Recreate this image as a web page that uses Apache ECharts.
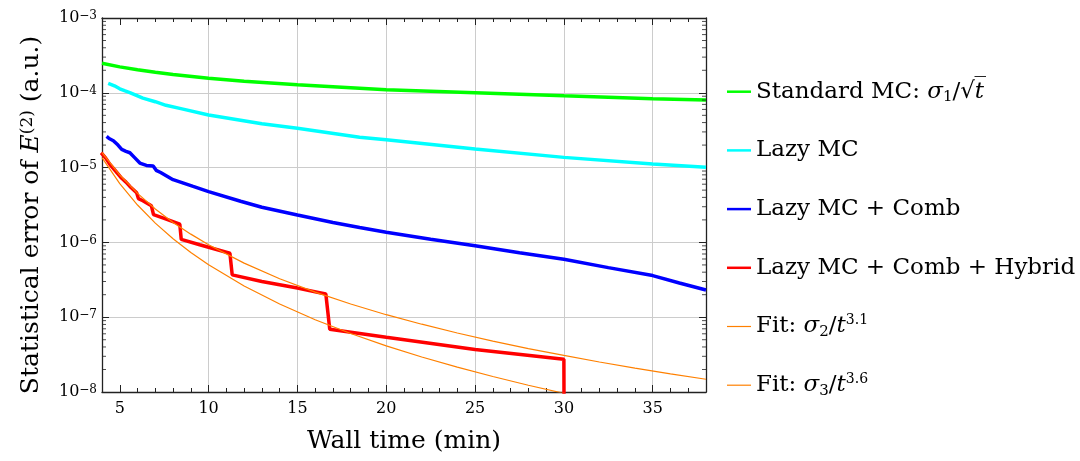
<!DOCTYPE html>
<html><head><meta charset="utf-8">
<script src="https://cdn.jsdelivr.net/npm/echarts@6/dist/echarts.min.js"></script>
<style>html,body{margin:0;padding:0;background:#fff}#c{width:1080px;height:461px}</style>
</head><body><div id="c"></div>
<script>
// ---- data (wall time in min, statistical error in a.u.) ----
const seriesNames = ['Standard MC', 'Lazy MC', 'Lazy MC + Comb', 'Lazy MC + Comb + Hybrid', 'Fit 3.1', 'Fit 3.6'];
const legendLabels = [
  'Standard MC: {i|σ}{sub|1}/√{i|t\u0305}',
  'Lazy MC',
  'Lazy MC + Comb',
  'Lazy MC + Comb + Hybrid',
  'Fit: {i|σ}{sub|2}/{i|t}{sup|3.1}',
  'Fit: {i|σ}{sub|3}/{i|t}{sup|3.6}'
];
const standardMC = [[4,2.48e-4],[5,2.22e-4],[6,2.03e-4],[7,1.88e-4],[8,1.76e-4],[10,1.57e-4],[12,1.43e-4],[15,1.28e-4],[18,1.17e-4],[20,1.10e-4],[25,1.0e-4],[30,9.1e-5],[35,8.3e-5],[38,8.0e-5]];
const lazyMC = [[4.35,1.34e-4],[4.7,1.24e-4],[5.0,1.13e-4],[5.3,1.06e-4],[5.6,1.0e-4],[6.3,8.5e-5],[7.0,7.6e-5],[7.6,6.8e-5],[8.5,6.1e-5],[10,5.05e-5],[11.8,4.3e-5],[13,3.85e-5],[15,3.35e-5],[18.5,2.55e-5],[20,2.36e-5],[25,1.77e-5],[30,1.37e-5],[35,1.12e-5],[38,1.01e-5]];
const lazyComb = [[4.26,2.62e-5],[4.4,2.45e-5],[4.64,2.29e-5],[4.9,2.0e-5],[5.11,1.75e-5],[5.35,1.65e-5],[5.57,1.58e-5],[5.85,1.35e-5],[6.13,1.15e-5],[6.5,1.07e-5],[6.88,1.05e-5],[7.05,9.2e-6],[7.3,8.6e-6],[8.0,6.9e-6],[9.13,5.6e-6],[10,4.78e-6],[11.8,3.55e-6],[13,2.95e-6],[15,2.33e-6],[17,1.85e-6],[18.5,1.58e-6],[20,1.37e-6],[22.5,1.10e-6],[25,9.0e-7],[27.5,7.25e-7],[30,5.95e-7],[32.5,4.6e-7],[35,3.6e-7],[36.5,2.87e-7],[38,2.31e-7]];
const lazyCombHybrid = [[3.95,1.58e-5],[4.2,1.35e-5],[4.45,1.1e-5],[4.8,8.8e-6],[5.11,7.2e-6],[5.35,6.4e-6],[5.57,5.6e-6],[5.95,4.6e-6],[6.05,3.85e-6],[6.3,3.6e-6],[6.78,3.08e-6],[6.9,2.35e-6],[7.5,2.1e-6],[8.38,1.75e-6],[8.46,1.1e-6],[9.5,9.3e-7],[11.2,7.15e-7],[11.33,3.68e-7],[13,3.0e-7],[15,2.45e-7],[16.6,2.04e-7],[16.82,6.9e-8],[20,5.4e-8],[25,3.7e-8],[30.0,2.74e-8],[30.01,5e-9]];
const fit31 = [[4,1.59e-5],[5,7.96e-6],[6,4.52e-6],[7,2.80e-6],[8,1.85e-6],[9,1.29e-6],[10,9.29e-7],[12,5.28e-7],[14,3.27e-7],[16,2.16e-7],[18,1.50e-7],[20,1.08e-7],[22,8.06e-8],[24,6.15e-8],[26,4.80e-8],[28,3.81e-8],[30,3.08e-8],[32,2.52e-8],[34,2.09e-8],[36,1.75e-8],[38,1.48e-8]];
const fit36 = [[4,1.36e-5],[5,6.09e-6],[6,3.16e-6],[7,1.81e-6],[8,1.12e-6],[9,7.34e-7],[10,5.02e-7],[12,2.61e-7],[14,1.50e-7],[16,9.25e-8],[18,6.05e-8],[20,4.14e-8],[22,2.94e-8],[24,2.15e-8],[26,1.61e-8],[28,1.23e-8],[30,9.6e-9],[31,8.5e-9]];
const seriesData = [standardMC, lazyMC, lazyComb, lazyCombHybrid, fit31, fit36];

// minor ticks of the log axis: mantissas 2..9 within each decade
const minorMantissas = [2, 3, 4, 5, 6, 7, 8, 9];
const minorDecades = [-8, -7, -6, -5, -4];
const xMin = 4, xMax = 38;

const FONT = 'DejaVu Serif';
const colors = ['#00ff00', '#00ffff', '#0000ff', '#ff0000', '#ff8000', '#ff8000'];
const widths = [3.5, 3.5, 3.5, 3.5, 1.2, 1.2];
const AX = '#222';

const minorVals = [];
minorDecades.forEach(d => minorMantissas.forEach(m => minorVals.push(m * Math.pow(10, d))));

const legendRich = {
  i: {fontFamily: FONT, fontStyle: 'italic', fontSize: 23, lineHeight: 26, color: '#000'},
  sub: {fontFamily: FONT, fontSize: 15, lineHeight: 15, verticalAlign: 'bottom', color: '#000'},
  sup: {fontFamily: FONT, fontSize: 14, lineHeight: 12, verticalAlign: 'top', color: '#000'}
};
const legends = seriesNames.map((n, k) => ({
  data: [n], orient: 'vertical', left: 727, top: 78.7 + k * 58.7, padding: 0,
  icon: 'rect', itemWidth: 24, itemHeight: k < 4 ? 2.5 : 1.2, itemGap: 11,
  formatter: name => legendLabels[seriesNames.indexOf(name)],
  textStyle: {fontFamily: FONT, fontSize: 23, lineHeight: 26, color: '#000', rich: legendRich},
  selectedMode: false
}));

const xGridColors = ['rgba(0,0,0,0)', '#cccccc', '#cccccc', '#cccccc', '#cccccc', '#cccccc', '#cccccc'];
const tickStyle = {color: AX, width: 1};

const series = seriesNames.map((n, k) => ({
  name: n, type: 'line', data: seriesData[k], xAxisIndex: 0, yAxisIndex: 0,
  showSymbol: false, symbol: 'none', smooth: false, clip: true,
  lineStyle: {color: colors[k], width: widths[k]}, itemStyle: {color: colors[k]},
  z: 2 + k
}));
// minor log ticks on the left and right frame edges, placed through the axis scales
series.push({
  name: 'minorLeft', type: 'scatter', data: minorVals.map(v => [xMin, v]),
  symbol: 'rect', symbolSize: [4, 1], symbolOffset: [2, 0], clip: false, silent: true,
  itemStyle: {color: AX}, z: 10
});
series.push({
  name: 'minorRight', type: 'scatter', data: minorVals.map(v => [xMax, v]),
  symbol: 'rect', symbolSize: [4, 1], symbolOffset: [-2, 0], clip: false, silent: true,
  itemStyle: {color: AX}, z: 10
});

const option = {
  animation: false,
  backgroundColor: '#fff',
  textStyle: {fontFamily: FONT, color: '#000'},
  grid: {left: 102, right: 374, top: 18, bottom: 69, containLabel: false, outerBoundsMode: 'none'},
  legend: legends,
  xAxis: [
    {type: 'value', min: xMin, max: xMax, splitNumber: 7, position: 'bottom',
     axisLine: {show: true, lineStyle: {color: AX, width: 1.3}},
     axisTick: {show: true, inside: true, length: 7, lineStyle: tickStyle},
     axisLabel: {showMinLabel: false, showMaxLabel: false, fontSize: 16, color: '#000', margin: 9, fontFamily: FONT},
     splitLine: {show: true, showMinLine: false, showMaxLine: false, lineStyle: {color: xGridColors, width: 1}},
     name: 'Wall time (min)', nameLocation: 'middle', nameGap: 37,
     nameTextStyle: {fontSize: 25, fontFamily: FONT, color: '#000'}},
    {type: 'value', min: xMin, max: xMax, interval: 1, position: 'bottom',
     axisLine: {show: false}, axisTick: {show: true, inside: true, length: 4, lineStyle: tickStyle},
     axisLabel: {show: false}, splitLine: {show: false}},
    {type: 'value', min: xMin, max: xMax, splitNumber: 7, position: 'top',
     axisLine: {show: true, lineStyle: {color: AX, width: 1.3}},
     axisTick: {show: true, inside: true, length: 7, lineStyle: tickStyle},
     axisLabel: {show: false}, splitLine: {show: false}},
    {type: 'value', min: xMin, max: xMax, interval: 1, position: 'top',
     axisLine: {show: false}, axisTick: {show: true, inside: true, length: 4, lineStyle: tickStyle},
     axisLabel: {show: false}, splitLine: {show: false}}
  ],
  yAxis: [
    {type: 'log', logBase: 10, min: 1e-8, max: 1e-3, position: 'left',
     axisLine: {show: true, lineStyle: {color: AX, width: 1.3}},
     axisTick: {show: true, inside: true, length: 7, lineStyle: tickStyle},
     axisLabel: {margin: 5, color: '#000', fontSize: 16, fontFamily: FONT,
       formatter: v => '10{sup|' + String(Math.round(Math.log10(v))).replace('-', '\u2212') + '}',
       rich: {sup: {fontSize: 12, lineHeight: 12, verticalAlign: 'top', fontFamily: FONT, color: '#000'}}},
     splitLine: {show: true, lineStyle: {color: '#cccccc', width: 1}},
     name: 'Statistical error of {i|E}{sup|(2)} (a.u.)', nameLocation: 'middle', nameGap: 58, nameRotate: 90,
     nameTextStyle: {fontSize: 25, fontFamily: FONT, color: '#000', padding: [0, 20, 0, 0],
       rich: {i: {fontSize: 25, fontStyle: 'italic', fontFamily: FONT, color: '#000'},
              sup: {fontSize: 17, lineHeight: 14, verticalAlign: 'top', fontFamily: FONT, color: '#000'}}}},
    {type: 'log', logBase: 10, min: 1e-8, max: 1e-3, position: 'right',
     axisLine: {show: true, lineStyle: {color: AX, width: 1.3}},
     axisTick: {show: true, inside: true, length: 7, lineStyle: tickStyle},
     axisLabel: {show: false}, splitLine: {show: false}}
  ],
  series: series
};
const chart = echarts.init(document.getElementById('c'));
chart.setOption(option);
</script>
</body></html>
